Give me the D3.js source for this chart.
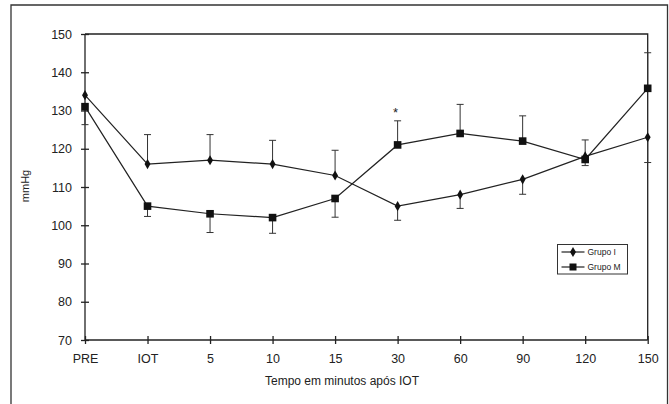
<!DOCTYPE html>
<meta charset="utf-8">
<style>
body { margin: 0; background: #fff; }
text { font-family: "Liberation Sans", Arial, sans-serif; fill: #222; }
.axis path, .axis line { stroke: #222; stroke-width: 1.3px; }
.serie { fill: none; stroke: #222; stroke-width: 1.2px; }
.err { stroke: #333; stroke-width: 1px; }
</style>
<svg width="669" height="404"></svg>
<script src="https://d3js.org/d3.v7.min.js"></script>
<script>

// data
var tempos = ["PRE", "IOT", "5", "10", "15", "30", "60", "90", "120", "150"];
var grupoI = [134, 116, 117, 116, 113, 105, 108, 112, 118, 123];
var grupoI_err = [null, 123.7, 123.7, 122.2, 119.6, 101.3, 104.4, 108.1, 122.3, 116.4];
var grupoM = [131, 105, 103, 102, 107, 121, 124, 122, 117.2, 135.8];
var grupoM_err = [126.3, 102.3, 98.1, 97.9, 102.1, 127.3, 131.6, 128.6, 115.6, 145.1];
var yTicks = [70, 80, 90, 100, 110, 120, 130, 140, 150];

var svg = d3.select("svg");
var pLeft = 85, pRight = 647.7, pTop = 34, pBottom = 340;

// outer frame (no bottom edge)
svg.append("path")
    .attr("d", "M11,404V5H667.5V404")
    .attr("fill", "none")
    .attr("stroke", "#333")
    .attr("stroke-width", 1.3);

var x = d3.scalePoint().domain(tempos).range([pLeft, pRight]);
var y = d3.scaleLinear().domain([70, 150]).range([pBottom, pTop]);

// box lines top and right
svg.append("path")
    .attr("d", "M" + pLeft + "," + pTop + "H" + pRight + "V" + pBottom)
    .attr("fill", "none")
    .attr("stroke", "#222")
    .attr("stroke-width", 1.3);

var yAxis = svg.append("g")
    .attr("class", "axis")
    .attr("transform", "translate(" + pLeft + ",0)")
    .call(d3.axisLeft(y).tickValues(yTicks).tickSize(4).tickPadding(9));
yAxis.selectAll(".tick line").attr("x1", 4).attr("x2", -4);
yAxis.select(".domain").attr("d", "M0," + pBottom + "V" + pTop);
yAxis.selectAll("text").style("font-size", "12.5px").attr("fill", "#222");

var xAxis = svg.append("g")
    .attr("class", "axis")
    .attr("transform", "translate(0," + pBottom + ")")
    .call(d3.axisBottom(x).tickSize(4).tickPadding(10));
xAxis.selectAll(".tick line").attr("y1", -4).attr("y2", 4);
xAxis.select(".domain").attr("d", "M" + pLeft + ",0H" + pRight);
xAxis.selectAll("text").style("font-size", "12.5px").attr("fill", "#222");

svg.append("text")
    .attr("x", 342).attr("y", 385)
    .attr("text-anchor", "middle")
    .style("font-size", "12px")
    .text("Tempo em minutos após IOT");

svg.append("text")
    .attr("transform", "translate(29,186) rotate(-90)")
    .attr("text-anchor", "middle")
    .style("font-size", "11px")
    .text("mmHg");

function errorBars(vals, errs) {
  var d = tempos.map(function(t, i) { return {t: t, v: vals[i], e: errs[i]}; })
      .filter(function(d) { return d.e != null; });
  var g = svg.append("g").attr("class", "err");
  g.selectAll(".v").data(d).enter().append("line")
      .attr("x1", function(d) { return x(d.t); })
      .attr("x2", function(d) { return x(d.t); })
      .attr("y1", function(d) { return y(d.v); })
      .attr("y2", function(d) { return y(d.e); });
  g.selectAll(".c").data(d).enter().append("line")
      .attr("x1", function(d) { return x(d.t) - 3.5; })
      .attr("x2", function(d) { return x(d.t) + 3.5; })
      .attr("y1", function(d) { return y(d.e); })
      .attr("y2", function(d) { return y(d.e); });
}
errorBars(grupoI, grupoI_err);
errorBars(grupoM, grupoM_err);

var line = d3.line()
    .x(function(d, i) { return x(tempos[i]); })
    .y(function(d) { return y(d); });

svg.append("path").attr("class", "serie").attr("d", line(grupoI));
svg.append("path").attr("class", "serie").attr("d", line(grupoM));

var diamond = d3.symbol().type(d3.symbolDiamond).size(30);
svg.selectAll(".ptI").data(grupoI).enter().append("path")
    .attr("d", diamond)
    .attr("transform", function(d, i) { return "translate(" + x(tempos[i]) + "," + y(d) + ")"; })
    .attr("fill", "#111");

svg.selectAll(".ptM").data(grupoM).enter().append("rect")
    .attr("x", function(d, i) { return x(tempos[i]) - 3.8; })
    .attr("y", function(d) { return y(d) - 3.8; })
    .attr("width", 7.6).attr("height", 7.6)
    .attr("fill", "#111");

// significance mark
svg.append("text")
    .attr("x", x("30") - 2).attr("y", y(127.3) - 4)
    .attr("text-anchor", "middle")
    .style("font-size", "13px")
    .text("*");

// legend
var leg = svg.append("g").attr("transform", "translate(557.5,244.5)");
leg.append("rect").attr("width", 70).attr("height", 29.5)
    .attr("fill", "#fff").attr("stroke", "#333").attr("stroke-width", 1);
[["Grupo I", "d"], ["Grupo M", "s"]].forEach(function(e, i) {
  var yy = 7.5 + i * 15;
  leg.append("line").attr("x1", 4).attr("x2", 27).attr("y1", yy).attr("y2", yy)
      .attr("stroke", "#222").attr("stroke-width", 1.2);
  if (e[1] === "d") {
    leg.append("path").attr("d", diamond).attr("transform", "translate(15.5," + yy + ")").attr("fill", "#111");
  } else {
    leg.append("rect").attr("x", 12).attr("y", yy - 3.5).attr("width", 7).attr("height", 7).attr("fill", "#111");
  }
  leg.append("text").attr("x", 30).attr("y", yy + 3).style("font-size", "8.5px").text(e[0]);
});

</script>
